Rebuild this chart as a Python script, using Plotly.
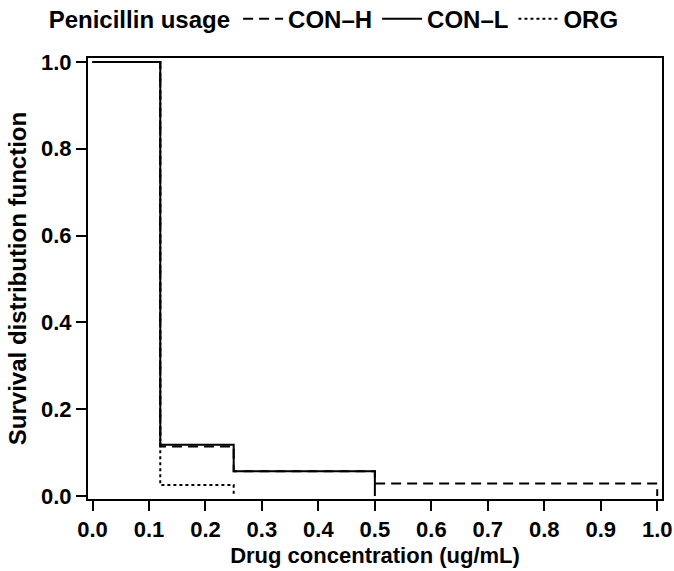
import plotly.graph_objects as go

# Data
con_h_x = [0.0, 0.12, 0.25, 0.5, 1.0]
con_h_y = [1.0, 0.114, 0.057, 0.029, 0.0]
con_l_x = [0.0, 0.12, 0.25, 0.5]
con_l_y = [1.0, 0.118, 0.057, 0.0]
org_x = [0.0, 0.12, 0.25]
org_y = [1.0, 0.025, 0.0]

series_names = ["CON\u2013H", "CON\u2013L", "ORG"]
x_ticks = [0.0, 0.1, 0.2, 0.3, 0.4, 0.5, 0.6, 0.7, 0.8, 0.9, 1.0]
y_ticks = [0.0, 0.2, 0.4, 0.6, 0.8, 1.0]

FONT = "Liberation Sans, Arial, sans-serif"

fig = go.Figure()
fig.add_trace(go.Scatter(x=con_h_x, y=con_h_y, mode="lines", name=f"<b>{series_names[0]}</b>",
                         line=dict(shape="hv", color="black", width=2, dash="10px,6px")))
fig.add_trace(go.Scatter(x=con_l_x, y=con_l_y, mode="lines", name=f"<b>{series_names[1]}</b>",
                         line=dict(shape="hv", color="black", width=2)))
fig.add_trace(go.Scatter(x=org_x, y=org_y, mode="lines", name=f"<b>{series_names[2]}</b>",
                         line=dict(shape="hv", color="black", width=2, dash="3px,3px")))

fig.update_layout(
    width=674, height=571,
    margin=dict(l=88, r=12, t=58, b=72, autoexpand=False),
    paper_bgcolor="white", plot_bgcolor="white",
    font=dict(family=FONT, size=23, color="black"),
    showlegend=True,
    legend=dict(orientation="h", x=-0.072, xanchor="left", y=1.088, yanchor="middle",
                title=dict(text="<b>Penicillin usage</b>", side="left",
                           font=dict(family=FONT, size=24, color="black")),
                font=dict(family=FONT, size=24, color="black"),
                itemwidth=40, tracegroupgap=0, bgcolor="rgba(0,0,0,0)"),
    xaxis=dict(range=[-0.008, 1.0085], tickvals=x_ticks,
               ticktext=[f"<b>{v:.1f}</b>" for v in x_ticks],
               tickfont=dict(size=22),
               showgrid=False, zeroline=False, showline=True, linecolor="black", linewidth=2,
               mirror=True, ticks="outside", ticklen=10, tickwidth=2, tickcolor="black",
               automargin=False,
               title=dict(text="<b>Drug concentration (ug/mL)</b>", standoff=6,
                          font=dict(size=22))),
    yaxis=dict(range=[-0.007, 1.0092], tickvals=y_ticks,
               ticktext=[f"<b>{v:.1f}</b>" for v in y_ticks],
               tickfont=dict(size=22),
               showgrid=False, zeroline=False, showline=True, linecolor="black", linewidth=2,
               mirror=True, ticks="outside", ticklen=10, tickwidth=2, tickcolor="black",
               automargin=False,
               title=dict(text="<b>Survival distribution function</b>", standoff=8,
                          font=dict(size=24))),
)

fig.write_html("out.html", config={"displayModeBar": False},
               post_script="document.body.style.margin='0';document.body.style.overflow='hidden';")
